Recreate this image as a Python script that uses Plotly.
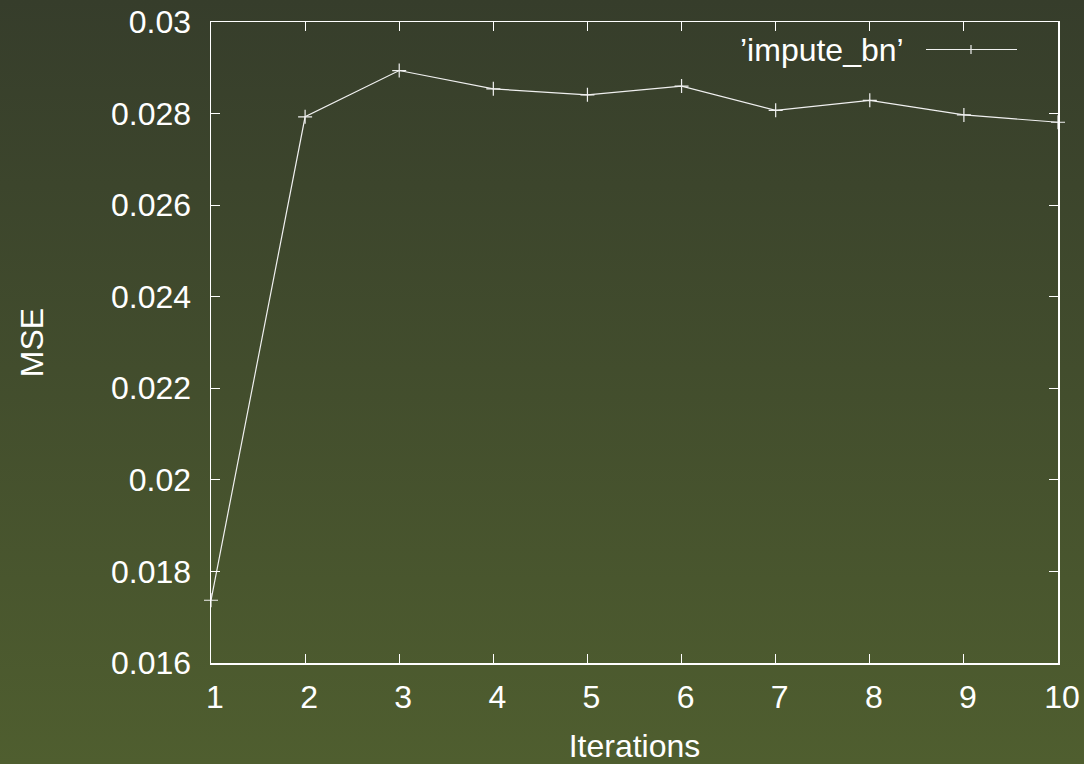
import base64
import plotly.graph_objects as go

iterations = [1, 2, 3, 4, 5, 6, 7, 8, 9, 10]
mse = [0.01737, 0.02793, 0.02894, 0.02854, 0.02841, 0.0286, 0.02807, 0.02829, 0.02797, 0.02781]
series_name = "\u2019impute_bn\u2019"
y_ticks = [0.016, 0.018, 0.02, 0.022, 0.024, 0.026, 0.028, 0.03]
y_ticktext = ["0.016", "0.018", "0.02", "0.022", "0.024", "0.026", "0.028", "0.03"]
x_ticks = [1, 2, 3, 4, 5, 6, 7, 8, 9, 10]

W, H = 1084, 764
L, R, T, B = 211, 26, 22, 101
pw, ph = W - L - R, H - T - B

def px(x):
    return (x - L) / pw

def py(y):
    return (H - B - y) / ph

svg = (
    '<svg xmlns="http://www.w3.org/2000/svg" width="100" height="100" preserveAspectRatio="none">'
    '<defs><linearGradient id="g" x1="0" y1="0" x2="0" y2="1">'
    '<stop offset="0" stop-color="#363d2b"/><stop offset="1" stop-color="#4f5e2f"/>'
    '</linearGradient></defs><rect width="100" height="100" fill="url(#g)"/></svg>'
)
src = "data:image/svg+xml;base64," + base64.b64encode(svg.encode()).decode()

font = dict(family="Liberation Sans, Arial, sans-serif", size=32, color="white")

fig = go.Figure()
fig.add_trace(go.Scatter(
    x=iterations, y=mse, mode="lines+markers", name=series_name,
    line=dict(color="#f0f0f0", width=1.2),
    marker=dict(symbol="cross-thin", size=10, line=dict(color="#f0f0f0", width=1.2)),
    cliponaxis=False, showlegend=False, hoverinfo="skip",
))

axis_common = dict(
    showgrid=False, zeroline=False, showline=True, linecolor="white", linewidth=1.5,
    mirror="allticks", ticks="inside", ticklen=9, tickcolor="white", tickwidth=1,
    tickfont=font, automargin=False,
)

fig.update_xaxes(range=[1, 10], tickvals=x_ticks, ticktext=[str(v) for v in x_ticks],
                 title=dict(text="Iterations", font=font, standoff=20),
                 ticklabelstandoff=5, ticklabelshift=4, **axis_common)
fig.update_yaxes(range=[0.016, 0.03], tickvals=y_ticks, ticktext=y_ticktext,
                 title=dict(text="MSE", font=font, standoff=58),
                 ticklabelstandoff=12, **axis_common)

# manual legend (sample on the right of the text, as in the reference)
leg_y = py(49.5)
fig.add_annotation(x=px(906), y=leg_y, xref="paper", yref="paper", text=series_name,
                   showarrow=False, xanchor="right", yanchor="middle", font=font)
fig.add_shape(type="line", xref="paper", yref="paper", x0=px(926), x1=px(1017), y0=leg_y, y1=leg_y,
              line=dict(color="#f0f0f0", width=1.2))
fig.add_shape(type="line", xref="paper", yref="paper", x0=px(971), x1=px(971), y0=py(45), y1=py(54),
              line=dict(color="#f0f0f0", width=1.2))

fig.add_layout_image(dict(source=src, xref="paper", yref="paper", x=px(0), y=py(0),
                          sizex=px(W) - px(0), sizey=py(0) - py(H), xanchor="left", yanchor="top",
                          sizing="stretch", layer="below"))

fig.update_layout(
    template="none",
    width=W, height=H, margin=dict(l=L, r=R, t=T, b=B, pad=0, autoexpand=False),
    paper_bgcolor="#43502d", plot_bgcolor="rgba(0,0,0,0)",
    font=font, hovermode=False,
)

fig.write_html("out.html", config={"displayModeBar": False, "staticPlot": True},
               post_script="document.body.style.margin='0';document.body.style.overflow='hidden';"
                           "document.documentElement.style.overflow='hidden';")
